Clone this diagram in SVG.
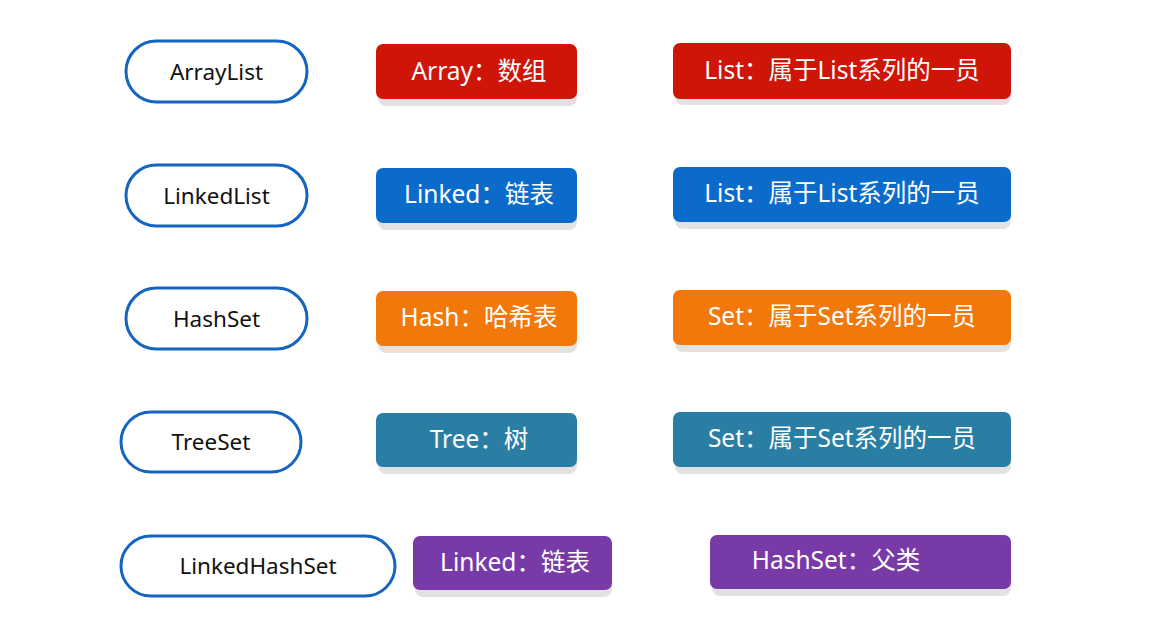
<svg xmlns="http://www.w3.org/2000/svg" width="1161" height="618" viewBox="0 0 1161 618">
<defs>
<style>
.pill{fill:#fff;stroke:#1565c0;stroke-width:3}
.pt{font-family:"Noto Sans","Noto Sans CJK SC",sans-serif;font-size:22.5px;font-weight:400;fill:#111;text-anchor:middle;dominant-baseline:central}
.bt{font-family:"Noto Sans","Noto Sans CJK SC",sans-serif;font-size:24.5px;fill:#fff;text-anchor:middle;dominant-baseline:central}
.sh{fill:#e2e2e2}
.red{fill:#cf1408}
.blue{fill:#0b6bcb}
.orange{fill:#f2780a}
.teal{fill:#2b7ea3}
.purple{fill:#773aa7}
</style>
</defs>
<rect width="1161" height="618" fill="#fff"/>
<g id="connectors"></g>
<g id="row1">
<g id="ArrayList"><rect class="pill" x="126" y="41" width="181" height="61" rx="30.5"/><text class="pt" x="216.5" y="71">ArrayList</text></g>
<g id="Array"><rect class="sh" x="378" y="50" width="199" height="56" rx="8"/><rect class="red" x="376" y="44" width="201" height="55" rx="7"/><text class="bt" x="479" y="70">Array：数组</text></g>
<g id="List1"><rect class="sh" x="675" y="49" width="336" height="56" rx="8"/><rect class="red" x="673" y="43" width="338" height="56" rx="7"/><text class="bt" x="842" y="69">List：属于List系列的一员</text></g>
</g>
<g id="row2">
<g id="LinkedList"><rect class="pill" x="126" y="165" width="181" height="61" rx="30.5"/><text class="pt" x="216.5" y="195">LinkedList</text></g>
<g id="Linked1"><rect class="sh" x="378" y="174" width="199" height="56" rx="8"/><rect class="blue" x="376" y="168" width="201" height="55" rx="7"/><text class="bt" x="479" y="193">Linked：链表</text></g>
<g id="List2"><rect class="sh" x="675" y="173" width="336" height="56" rx="8"/><rect class="blue" x="673" y="167" width="338" height="55" rx="7"/><text class="bt" x="842" y="192">List：属于List系列的一员</text></g>
</g>
<g id="row3">
<g id="HashSet"><rect class="pill" x="126" y="288" width="181" height="61" rx="30.5"/><text class="pt" x="216.5" y="318">HashSet</text></g>
<g id="Hash"><rect class="sh" x="378" y="297" width="199" height="56" rx="8"/><rect class="orange" x="376" y="291" width="201" height="55" rx="7"/><text class="bt" x="479" y="316">Hash：哈希表</text></g>
<g id="Set1"><rect class="sh" x="675" y="296" width="336" height="56" rx="8"/><rect class="orange" x="673" y="290" width="338" height="55" rx="7"/><text class="bt" x="842" y="315">Set：属于Set系列的一员</text></g>
</g>
<g id="row4">
<g id="TreeSet"><rect class="pill" x="121" y="412" width="180" height="60" rx="30"/><text class="pt" x="211" y="441">TreeSet</text></g>
<g id="Tree"><rect class="sh" x="378" y="419" width="199" height="55" rx="8"/><rect class="teal" x="376" y="413" width="201" height="54" rx="7"/><text class="bt" x="479" y="438">Tree：树</text></g>
<g id="Set2"><rect class="sh" x="675" y="418" width="336" height="56" rx="8"/><rect class="teal" x="673" y="412" width="338" height="55" rx="7"/><text class="bt" x="842" y="437">Set：属于Set系列的一员</text></g>
</g>
<g id="row5">
<g id="LinkedHashSet"><rect class="pill" x="121" y="536" width="274" height="60" rx="30"/><text class="pt" x="258" y="565">LinkedHashSet</text></g>
<g id="Linked2"><rect class="sh" x="415" y="542" width="197" height="55" rx="8"/><rect class="purple" x="413" y="536" width="199" height="54" rx="7"/><text class="bt" x="515" y="561">Linked：链表</text></g>
<g id="HashSetParent"><rect class="sh" x="712" y="541" width="299" height="55" rx="8"/><rect class="purple" x="710" y="535" width="301" height="54" rx="7"/><text class="bt" x="836" y="559">HashSet：父类</text></g>
</g>
</svg>
